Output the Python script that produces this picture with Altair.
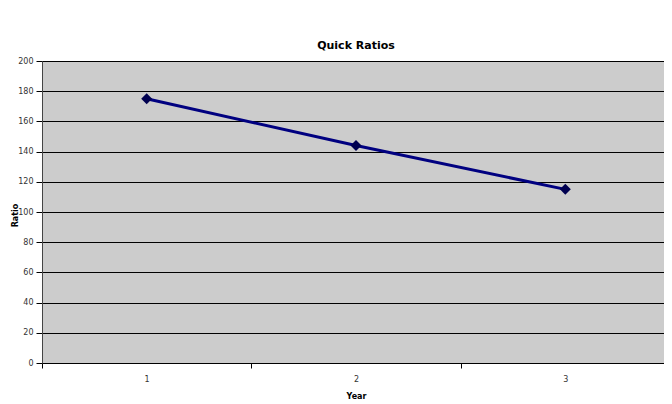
import altair as alt
import pandas as pd

years = ["1", "2", "3"]
ratios = [175, 144, 115]

df = pd.DataFrame({"Year": years, "Ratio": ratios})

font = "DejaVu Sans"

x = alt.X("Year:O",
          scale=alt.Scale(paddingInner=0, paddingOuter=0),
          axis=alt.Axis(title="Year", labelAngle=0, tickBand="extent",
                        grid=False, domainColor="#000000", tickColor="#000000",
                        tickSize=5, labelFontSize=8, labelColor="#333333",
                        labelFont=font, labelPadding=7, titleFont=font,
                        titleFontSize=8, titleFontWeight="bold",
                        titlePadding=9, titleColor="#000000"))
y = alt.Y("Ratio:Q",
          scale=alt.Scale(domain=[0, 200], nice=False),
          axis=alt.Axis(title="Ratio", values=list(range(0, 201, 20)),
                        grid=True, gridColor="#000000", gridWidth=1,
                        domainColor="#444444", tickColor="#000000", tickSize=6,
                        labelFontSize=8, labelColor="#333333", labelFont=font,
                        labelPadding=3, titleFont=font, titleFontSize=8,
                        titleFontWeight="bold", titleColor="#000000",
                        titleX=-27, titleY=154, titleAngle=-90,
                        titleAlign="center", titleBaseline="middle"))

line = alt.Chart(df).mark_line(color="#000080", strokeWidth=3).encode(x=x, y=y)
pts = alt.Chart(df).mark_point(shape="diamond", filled=True, size=120,
                               color="#000050", opacity=1).encode(x=x, y=y)

chart = (line + pts).properties(
    width=628, height=302,
    autosize=alt.AutoSizeParams(type="none"),
    padding={"left": 34, "top": 53, "right": -6, "bottom": 36},
    background="#ffffff",
    title=alt.TitleParams("Quick Ratios", font=font, fontSize=11,
                          fontWeight="bold", color="#000000", offset=6),
).configure_view(fill="#CCCCCC", stroke="#808080", strokeWidth=1)

chart.save("out.html", embed_options={"renderer": "svg", "actions": False})
